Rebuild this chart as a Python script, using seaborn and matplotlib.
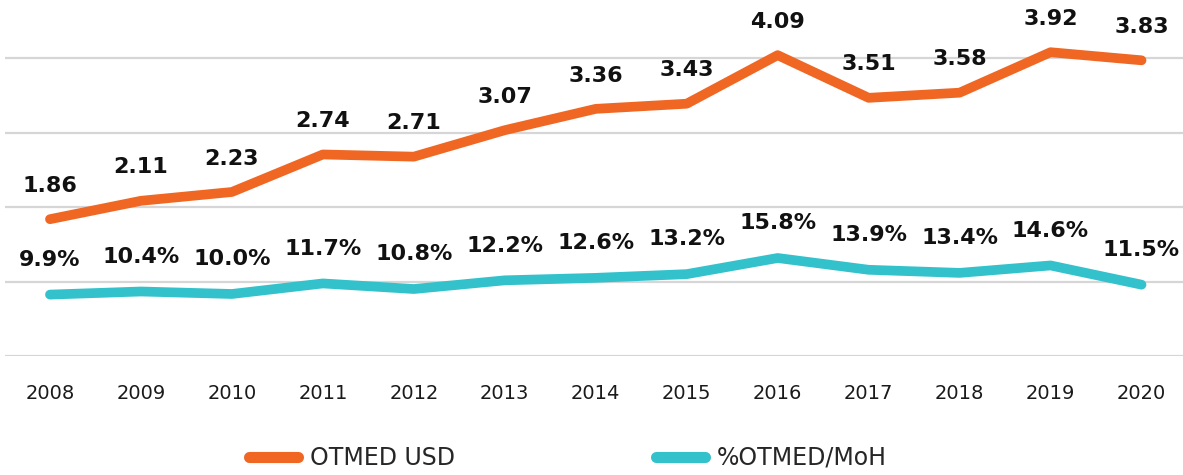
import pandas as pd
import seaborn as sns
import matplotlib.pyplot as plt

# Data
years = [2008, 2009, 2010, 2011, 2012, 2013, 2014, 2015, 2016, 2017, 2018, 2019, 2020]
# printed labels for OTMED USD
otmed_usd = [1.86, 2.11, 2.23, 2.74, 2.71, 3.07, 3.36, 3.43, 4.09, 3.51, 3.58, 3.92, 3.83]
# the line as drawn (2019/2020 sit higher than their labels in the original)
otmed_usd_line = [1.86, 2.11, 2.23, 2.74, 2.71, 3.07, 3.36, 3.43, 4.09, 3.51, 3.58, 4.13, 4.02]
otmed_share = [9.9, 10.4, 10.0, 11.7, 10.8, 12.2, 12.6, 13.2, 15.8, 13.9, 13.4, 14.6, 11.5]

ORANGE = "#F06724"
TEAL = "#33C2CB"

sns.set_theme(style="white")
plt.rcParams['font.family'] = ['DejaVu Sans']

df = pd.DataFrame({"year": years, "usd": otmed_usd_line, "share": otmed_share})

fig = plt.figure(figsize=(11.83, 4.75), dpi=100)
ax = fig.add_axes([4.5 / 1183, 119 / 475, 1182.5 / 1183, 356 / 475])
ax2 = ax.twinx()
ax.set_zorder(ax2.get_zorder() + 1)
ax.patch.set_visible(False)

sns.lineplot(data=df, x="year", y="usd", ax=ax, color=ORANGE, linewidth=7,
             solid_capstyle="round", label="OTMED USD", legend=False)
sns.lineplot(data=df, x="year", y="share", ax=ax2, color=TEAL, linewidth=7,
             solid_capstyle="round", label="%OTMED/MoH", legend=False)

ax.set_ylim(0, 4.84)
ax2.set_ylim(0, 57.4)
ax.set_xlim(2007.5, 2020.5)

# gridlines come from the percentage axis (12% steps)
ax2.set_yticks([0, 12, 24, 36, 48])
ax2.yaxis.grid(True, color="#D6D6D6", linewidth=1.6)
ax2.set_axisbelow(True)
ax2.set_yticklabels([])
ax.set_yticks([])
ax.grid(False)
ax.set_xticks(years)
ax.set_xticklabels([str(y) for y in years], fontsize=14, color="#1a1a1a")
ax.tick_params(axis="x", length=0, pad=20)
ax2.tick_params(axis="y", length=0)
ax.set_xlabel("")
ax.set_ylabel("")
ax2.set_ylabel("")
for a in (ax, ax2):
    for s in a.spines.values():
        s.set_visible(False)

for x, yv, lab in zip(years, otmed_usd_line, otmed_usd):
    ax.annotate(f"{lab:.2f}", (x, yv), xytext=(0, 24), textcoords="offset points",
                ha="center", va="center", fontsize=16, fontweight="bold", color="#111111")
for x, yv in zip(years, otmed_share):
    ax2.annotate(f"{yv:.1f}%", (x, yv), xytext=(0, 25), textcoords="offset points",
                 ha="center", va="center", fontsize=16, fontweight="bold", color="#111111")

h1, l1 = ax.get_legend_handles_labels()
h2, l2 = ax2.get_legend_handles_labels()
leg = fig.legend(h1 + h2, l1 + l2, loc="center", bbox_to_anchor=(0.48, 0.036), ncol=2,
                 frameon=False, fontsize=17, handlelength=2.1, handletextpad=0.5,
                 columnspacing=8.5)
for line in leg.get_lines():
    line.set_solid_capstyle("round")
    line.set_linewidth(8)

fig.savefig("out.png", dpi=100)
